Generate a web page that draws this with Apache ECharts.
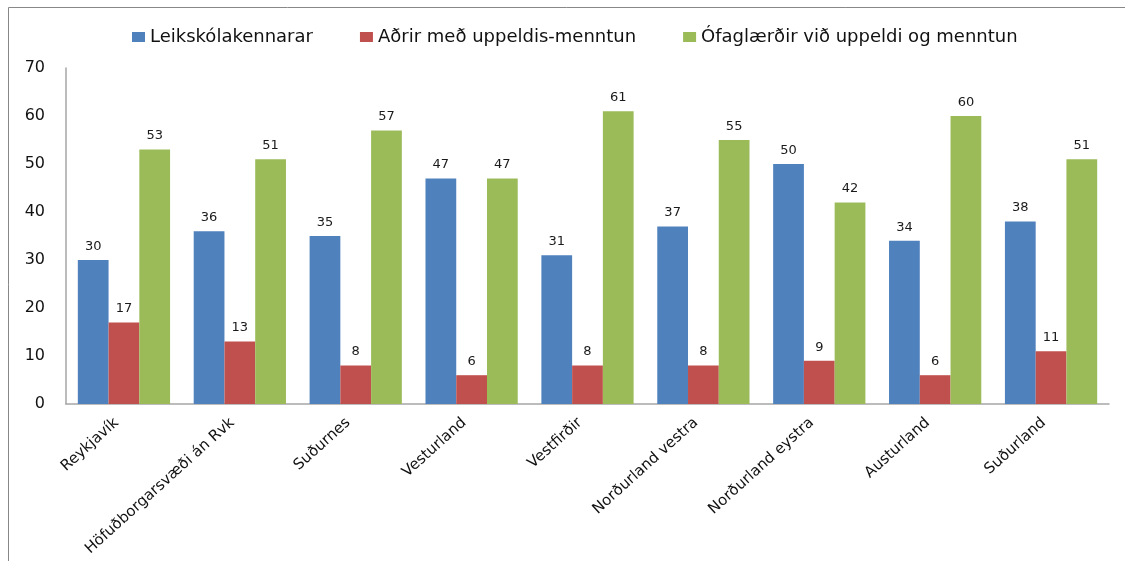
<!DOCTYPE html>
<html>
<head>
<meta charset="utf-8">
<script src="https://cdn.jsdelivr.net/npm/echarts@6/dist/echarts.min.js"></script>
<style>
  html, body { margin: 0; padding: 0; background: #fff; }
  #chart { width: 1125px; height: 561px; }
</style>
</head>
<body>
<div id="chart"></div>
<script>
// svæði
const regions = [
  "Reykjavík",
  "Höfuðborgarsvæði án Rvk",
  "Suðurnes",
  "Vesturland",
  "Vestfirðir",
  "Norðurland vestra",
  "Norðurland eystra",
  "Austurland",
  "Suðurland"
];
const seriesNames = [
  "Leikskólakennarar",
  "Aðrir með uppeldis-menntun",
  "Ófaglærðir við uppeldi og menntun"
];
const leikskolakennarar = [30, 36, 35, 47, 31, 37, 50, 34, 38];
const adrir = [17, 13, 8, 6, 8, 8, 9, 6, 11];
const ofaglaerdir = [53, 51, 57, 47, 61, 55, 42, 60, 51];
const yTicks = [0, 10, 20, 30, 40, 50, 60, 70];

const colors = ["#4F81BD", "#C0504D", "#9BBB59"];
const font = "DejaVu Sans";

const chart = echarts.init(document.getElementById("chart"));

const makeSeries = (name, data, color) => ({
  name: name,
  type: "bar",
  data: data,
  barGap: "0%",
  barCategoryGap: "20.4%",
  itemStyle: { color: color },
  label: {
    show: true,
    position: "top",
    distance: 7,
    color: "#1a1a1a",
    fontFamily: font,
    fontSize: 13
  }
});

const option = {
  animation: false,
  backgroundColor: "#fff",
  textStyle: { fontFamily: font },
  graphic: [
    {
      type: "polyline",
      shape: { points: [[8.5, 561], [8.5, 7.5], [1125, 7.5]] },
      style: { stroke: "#888", lineWidth: 1, fill: null }
    }
  ],
  legend: {
    top: 23,
    left: 127,
    itemWidth: 13,
    itemHeight: 10,
    itemGap: 47,
    icon: "rect",
    textStyle: { fontSize: 18, color: "#111", fontFamily: font },
    data: seriesNames
  },
  grid: {
    left: 66,
    right: 16,
    top: 68,
    bottom: 157,
    containLabel: false,
    outerBoundsMode: "none"
  },
  xAxis: {
    type: "category",
    data: regions,
    axisLine: { lineStyle: { color: "#a6a6a6", width: 1.5 } },
    axisTick: { show: false },
    axisLabel: {
      rotate: 42,
      margin: 10,
      interval: 0,
      fontSize: 15,
      color: "#111",
      fontFamily: font,
      padding: [0, 10, 0, 0]
    }
  },
  yAxis: {
    type: "value",
    min: yTicks[0],
    max: yTicks[yTicks.length - 1],
    interval: 10,
    axisLine: { show: true, lineStyle: { color: "#a6a6a6", width: 1.5 } },
    axisTick: { show: false },
    splitLine: { show: false },
    axisLabel: {
      margin: 21,
      fontSize: 16,
      color: "#111",
      fontFamily: font
    }
  },
  series: [
    makeSeries(seriesNames[0], leikskolakennarar, colors[0]),
    makeSeries(seriesNames[1], adrir, colors[1]),
    makeSeries(seriesNames[2], ofaglaerdir, colors[2])
  ]
};

chart.setOption(option);
</script>
</body>
</html>
